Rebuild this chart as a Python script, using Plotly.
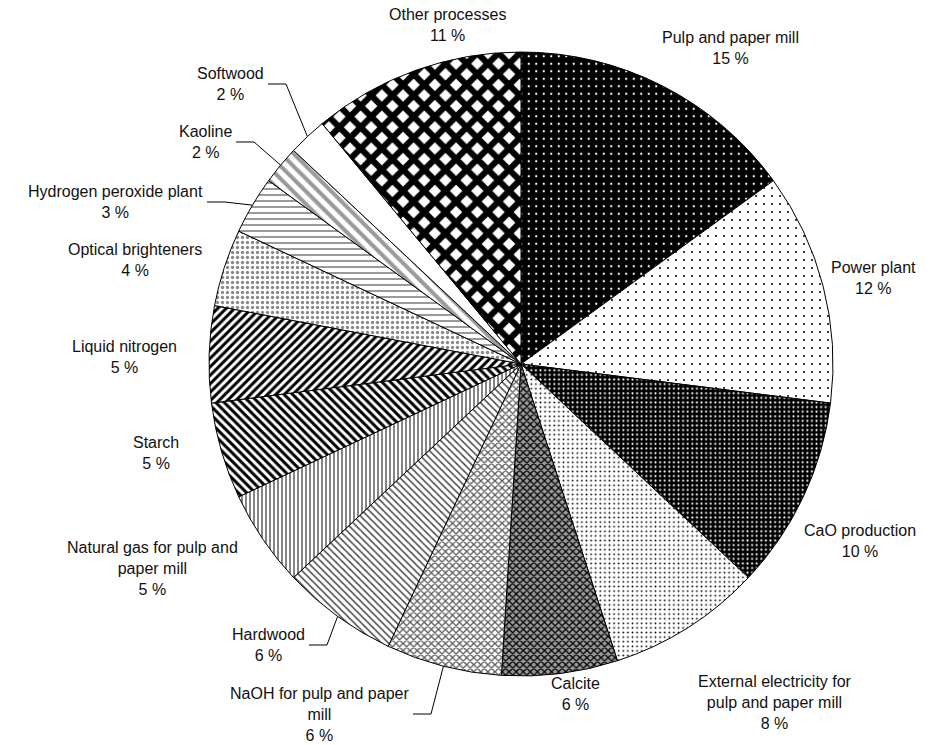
import math
import plotly.graph_objects as go

W, H = 938, 745

# ---- data -----------------------------------------------------------------
categories = [
    "Pulp and paper mill",
    "Power plant",
    "CaO production",
    "External electricity for pulp and paper mill",
    "Calcite",
    "NaOH for pulp and paper mill",
    "Hardwood",
    "Natural gas for pulp and paper mill",
    "Starch",
    "Liquid nitrogen",
    "Optical brighteners",
    "Hydrogen peroxide plant",
    "Kaoline",
    "Softwood",
    "Other processes",
]
shares = [15, 12, 10, 8, 6, 6, 6, 5, 5, 5, 4, 3, 2, 2, 11]

# wrapped label names as drawn next to the pie
label_names = [
    "Pulp and paper mill",
    "Power plant",
    "CaO production",
    "External electricity for<br>pulp and paper mill",
    "Calcite",
    "NaOH for pulp and paper<br>mill",
    "Hardwood",
    "Natural gas for pulp and<br>paper mill",
    "Starch",
    "Liquid nitrogen",
    "Optical brighteners",
    "Hydrogen peroxide plant",
    "Kaoline",
    "Softwood",
    "Other processes",
]

# ---- styling --------------------------------------------------------------
pattern_shape = [".", ".", ".", ".", "x", "x", "\\", "|", "\\", "/", ".", "-", "\\", "", "x"]
pattern_fg = ["white", "black", "white", "black", "black", "#5a5a5a", "#4a4a4a", "#505050",
              "black", "black", "#8a8a8a", "#555555", "#9a9a9a", "white", "black"]
pattern_bg = ["black", "white", "black", "white", "#9a9a9a", "white", "white", "white",
              "white", "white", "white", "white", "white", "white", "white"]
pattern_size = [7.5, 8, 4.6, 4.6, 5, 5, 5, 4, 6, 6, 5, 6, 9, 8, 15]
pattern_solidity = [0.07, 0.05, 0.16, 0.12, 0.45, 0.45, 0.3, 0.35, 0.5, 0.5, 0.35, 0.2, 0.45, 0.0, 0.66]

# pie geometry in pixels
CX, CY, R = 521, 364, 312

# label placement: (x, y, xanchor, leader) in pixels; leader=True draws a connector
label_layout = [
    (730, 48, "center", False),
    (873, 278, "center", False),
    (860, 541, "center", False),
    (775, 702, "center", False),
    (575, 694, "center", False),
    (411, 714, "right", True),
    (307, 645, "right", True),
    (152, 568, "center", False),
    (156, 453, "center", False),
    (124, 357, "center", False),
    (135, 260, "center", False),
    (205, 202, "right", True),
    (234, 142, "right", True),
    (266, 84, "right", True),
    (447, 25, "center", False),
]

FONT = "Liberation Sans, Arial, sans-serif"


def px_to_paper(x, y):
    return x / W, 1 - y / H


fig = go.Figure(
    go.Pie(
        labels=categories,
        values=shares,
        sort=False,
        direction="clockwise",
        rotation=0,
        textinfo="none",
        hoverinfo="label+percent",
        showlegend=False,
        marker=dict(
            colors=pattern_bg,
            line=dict(color="black", width=1),
            pattern=dict(
                shape=pattern_shape,
                fgcolor=pattern_fg,
                bgcolor=pattern_bg,
                size=pattern_size,
                solidity=pattern_solidity,
                fillmode="replace",
            ),
        ),
        domain=dict(
            x=[(CX - R) / W, (CX + R) / W],
            y=[1 - (CY + R) / H, 1 - (CY - R) / H],
        ),
    )
)

total = sum(shares)
annotations = []
shapes = []
cum = 0.0
for name, value, (lx, ly, anchor, leader) in zip(label_names, shares, label_layout):
    mid = (cum + value / 2) / total
    cum += value
    pct = round(value / total * 100)
    ax, ay = px_to_paper(lx, ly)
    annotations.append(dict(
        x=ax, y=ay, xref="paper", yref="paper",
        text=f"{name}<br>{pct} %",
        showarrow=False, xanchor=anchor, yanchor="middle", align="center",
        font=dict(family=FONT, size=16, color="#111111"),
    ))
    if leader:
        theta = 2 * math.pi * mid
        ex = CX + R * math.sin(theta)
        ey = CY - R * math.cos(theta)
        end_x = lx + 2
        elbow_x = end_x + 18
        pts = [px_to_paper(ex, ey), px_to_paper(elbow_x, ly), px_to_paper(end_x, ly)]
        path = "M {:.5f},{:.5f} L {:.5f},{:.5f} L {:.5f},{:.5f}".format(
            pts[0][0], pts[0][1], pts[1][0], pts[1][1], pts[2][0], pts[2][1])
        shapes.append(dict(type="path", xref="paper", yref="paper", path=path,
                           line=dict(color="black", width=1)))

fig.update_layout(
    width=W, height=H,
    margin=dict(l=0, r=0, t=0, b=0),
    paper_bgcolor="white",
    plot_bgcolor="white",
    annotations=annotations,
    shapes=shapes,
)

fig.write_html("out.html")
